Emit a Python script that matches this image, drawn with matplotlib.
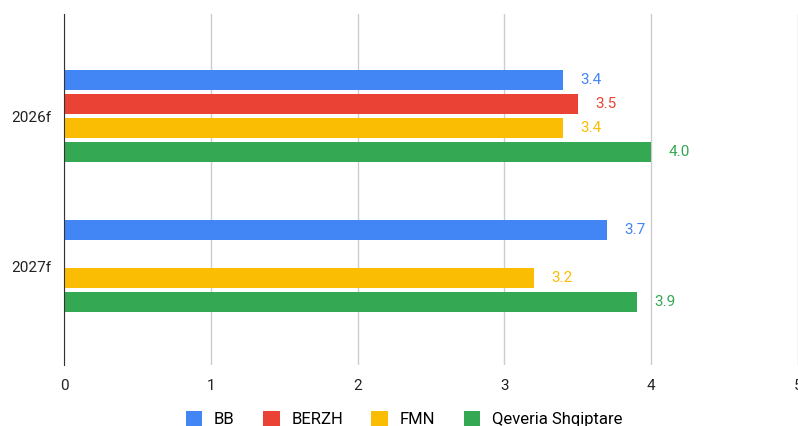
import matplotlib.pyplot as plt
import numpy as np

plt.rcParams['font.family'] = ['Roboto', 'DejaVu Sans']

# data
categories = ["2026f", "2027f"]
series = ["BB", "BERZH", "FMN", "Qeveria Shqiptare"]
bb = [3.4, 3.7]
berzh = [3.5, np.nan]
fmn = [3.4, 3.2]
qeveria = [4.0, 3.9]
colors = ["#4285F4", "#EA4335", "#FBBC04", "#34A853"]

values = [bb, berzh, fmn, qeveria]

fig = plt.figure(figsize=(7.98, 4.26), dpi=100)
ax = fig.add_axes([64 / 798, 1 - 365 / 426, 1 - 64 / 798, (365 - 14) / 426])

y = np.arange(len(categories))
offsets = [-0.237, -0.08, 0.077, 0.237]
h = 0.133

for vals, off, c, name in zip(values, offsets, colors, series):
    ax.barh(y + off, vals, height=h, color=c, label=name, zorder=3)
    for yy, v in zip(y + off, vals):
        if np.isnan(v):
            continue
        ax.text(v + 0.12, yy, f"{v:.1f}", color=c, va="center", ha="left",
                fontsize=11)

ax.set_xlim(0, 5)
ax.set_ylim(1.66, -0.68)
ax.set_yticks(y)
ax.set_yticklabels(categories, fontsize=11, color="#222222")
ax.set_xticks([0, 1, 2, 3, 4, 5])
ax.tick_params(axis="x", length=0, pad=10, labelsize=11, labelcolor="#222222")
ax.tick_params(axis="y", length=0, pad=9)
ax.grid(axis="x", color="#cccccc", linewidth=1, zorder=0)
for s in ["top", "right", "bottom"]:
    ax.spines[s].set_visible(False)
ax.spines["left"].set_color("#333333")
ax.spines["left"].set_zorder(4)

fig.legend(loc="center", bbox_to_anchor=(404 / 798, 1 - 419 / 426), ncol=4,
           frameon=False, fontsize=12, handlelength=1.0, handleheight=1.0,
           handletextpad=0.7, columnspacing=1.7)

plt.savefig("out.png", dpi=100)
